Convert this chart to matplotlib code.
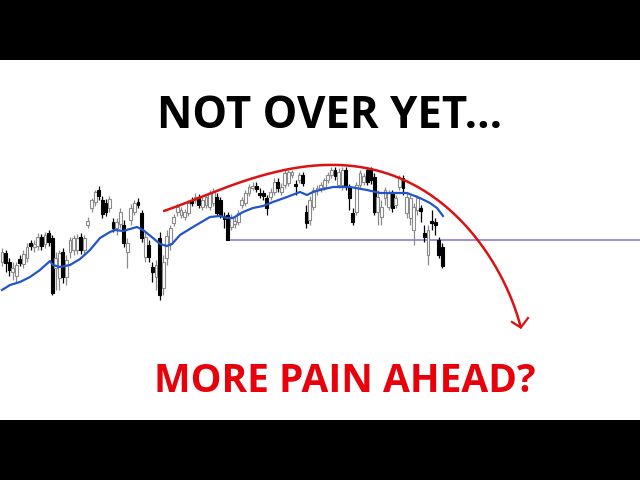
import matplotlib
matplotlib.use("Agg")
import matplotlib.pyplot as plt
import numpy as np

# ---- candle data (price units) ----
opens = [158,167,158,148,144,161,156,162,177,173,174,183,176,187,182,152,142,168,143,168,
         170,170,183,170,195,212,218,230,220,217,212,198,192,196,195,168,200,208,218,207,
         163,175,153,143,182,132,162,177,197,208,205,203,207,220,220,223,213,215,213,217,
         223,220,204,205,193,196,198,215,217,227,232,234,227,227,222,223,228,238,228,235,
         237,245,236,240,245,208,200,213,230,232,233,240,245,250,235,235,250,233,207,208,
         235,238,250,250,243,208,203,222,213,227,215,233,242,207,202,190,210,212,187,165,
         199,198,180,173]
closes = [168,157,150,152,155,157,166,173,174,176,183,174,185,178,127,162,167,143,160,180,
          182,182,170,182,199,220,228,224,206,208,221,192,198,208,177,177,212,217,215,182,
          183,163,148,155,125,158,184,192,203,213,210,208,217,217,223,215,220,223,227,228,
          207,205,201,180,202,199,207,220,227,233,234,231,225,224,212,228,238,232,233,247,
          248,248,234,245,237,197,220,230,232,235,240,245,250,244,248,250,233,222,198,235,
          247,244,238,240,208,223,213,230,227,212,222,242,232,223,222,213,222,209,183,190,
          197,195,165,154]
highs = [172,170,162,158,158,165,170,177,180,180,187,186,188,190,185,168,170,172,165,183,
         185,186,187,185,203,222,230,234,224,221,224,202,202,212,200,182,216,220,222,210,
         188,180,158,160,188,165,190,195,206,216,213,211,220,223,227,226,223,226,230,232,
         227,223,208,208,206,203,210,223,230,236,238,238,232,230,225,232,242,242,237,250,
         250,250,240,248,248,215,224,233,235,238,242,248,253,253,252,253,253,236,212,238,
         250,247,253,253,247,230,220,233,230,230,225,245,245,227,225,217,225,215,195,195,
         210,202,183,177]
lows = [154,148,144,140,138,154,152,158,170,168,170,170,172,174,125,130,130,137,135,162,
        165,166,166,165,192,208,214,220,202,204,208,188,185,192,173,152,195,205,212,178,
        158,158,138,130,120,125,155,170,194,204,202,200,204,214,217,212,210,212,210,214,
        204,202,192,180,190,192,195,212,214,224,230,228,222,220,205,220,225,228,225,232,
        234,242,225,237,234,192,195,210,225,228,230,237,242,240,232,230,230,210,195,205,
        232,235,235,236,205,195,195,215,210,208,212,230,225,202,195,175,205,198,178,155,
        190,185,162,152]

# moving-average line
ma_idx = [0,2.23,5.03,7.82,10.61,13.41,14.25,16.2,18.99,21.79,24.58,27.37,30.17,31.56,33.8,
          35.75,37.7,39.39,42.18,44.13,46.09,47.49,49.72,53.35,58.1,60.89,62.85,64.53,67.32,
          70.11,72.91,75.7,79.6,83.24,85.2,86.87,88.83,92.46,97.21,101.96,105.59,109.22,
          113.13,116.76,119.55,121.51,123.18]
ma_val = [130,135,138,143,150,159,155,153,155,161,170,182,188,190,189,191,193,190,182,176,
          174,176,185,193,203,204,202,202,208,212,214,218,223,228,225,228,230,233,233,230,
          227,227,227,222,217,212,204]

support_level = 180
support_start = 63

# red arc annotation (index, price)
arc_x = [44.97,53.35,62.85,72.07,81.28,87.99,92.46,101.96,111.17,120.39,127.93,132.68,137.15,141.90,145.25]
arc_y = [209,220,232,243,252,255,256,252,242,222,203,182,153,123,92]

title_top = "NOT OVER YET..."
title_bottom = "MORE PAIN AHEAD?"

# ---- figure ----
fig = plt.figure(figsize=(6.4, 4.8), dpi=100, facecolor="black")
ax = fig.add_axes([0, 60/480, 1, 360/480])
ax.set_facecolor("white")
ax.set_xlim(-2/3.58, 638/3.58)
ax.set_ylim(0, 360)
ax.axis("off")
ax.add_patch(plt.Rectangle((0, 0), 1, 1, transform=ax.transAxes, color="white", zorder=0))

w = 0.8
for i, (o, c, h, l) in enumerate(zip(opens, closes, highs, lows)):
    up = c >= o
    col = "#8a8a8a" if up else "black"
    ax.vlines(i, l, h, color=col, lw=0.9, zorder=2)
    bottom = min(o, c)
    height = max(abs(c - o), 1.5)
    ax.add_patch(plt.Rectangle((i - w/2, bottom), w, height,
                               facecolor="white" if up else "black",
                               edgecolor=col, lw=0.8, zorder=3))

ax.plot(ma_idx, ma_val, color="#2255cc", lw=1.6, zorder=4)
ax.hlines(support_level, support_start, 638/3.58, color="#8a6fd0", lw=1.1, zorder=1)

# smooth red arc: parametric polynomial fit through the read points
# (work in pixel-like space for isotropic chord lengths)
sx = np.array(arc_x) * 3.58
sy = np.array(arc_y, dtype=float)
d = np.r_[0, np.cumsum(np.hypot(np.diff(sx), np.diff(sy)))]
t = d / d[-1]
cx = np.polyfit(t, sx, 4)
cy = np.polyfit(t, sy, 4)
tt = np.linspace(0, 1, 300)
ax.plot(np.polyval(cx, tt) / 3.58, np.polyval(cy, tt), color="#dd1111", lw=1.8,
        zorder=5, solid_capstyle="round")
tip = (np.polyval(cx, 1.0) / 3.58, np.polyval(cy, 1.0))
ax.plot([142.46, tip[0], 146.93], [98, tip[1], 102], color="#dd1111", lw=1.6, zorder=5)

fig.text(330/640, 1 - 128/480, title_top, ha="center", va="baseline",
         fontsize=31.5, fontweight="bold", family="Open Sans", color="black")
fig.text(345/640, 1 - 392/480, title_bottom, ha="center", va="baseline",
         fontsize=28, fontweight="bold", family="Open Sans", color="#e8000b")

fig.savefig("out.png", dpi=100, facecolor="black")
